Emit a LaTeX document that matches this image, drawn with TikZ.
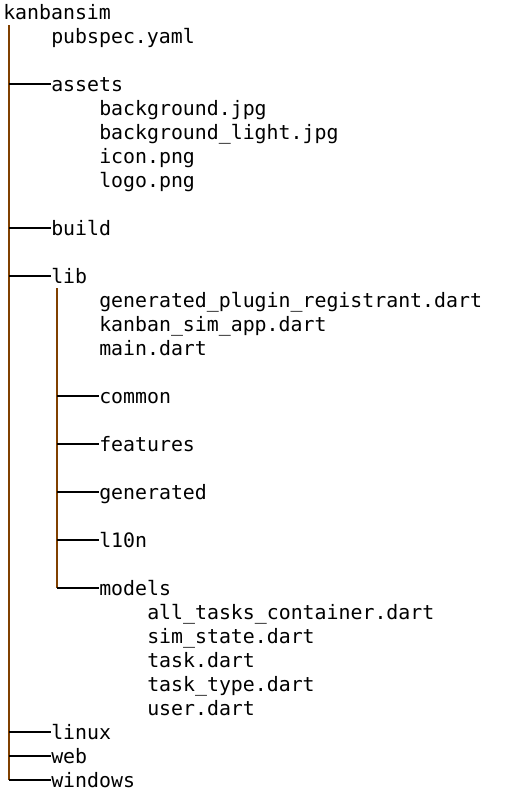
\documentclass[tikz,border=0pt]{standalone}
\usepackage{fontspec}
\setmonofont{DejaVu Sans Mono}
\definecolor{trunkbrown}{RGB}{128,64,0}
\tikzset{
  entry/.style={anchor=base west, inner sep=0pt, text height=10.5pt, text depth=0pt,
    font=\ttfamily\fontsize{14.9}{18}\selectfont},
  trunk/.style={draw=trunkbrown, line width=1.5pt},
  branch/.style={draw=black, line width=1.5pt},
}
\begin{document}
\begin{tikzpicture}[x=0.75pt,y=-0.75pt]
			%%%%% START %%%%%
			\useasboundingbox (0,0) rectangle (523,811);
			
			\node[entry] (kanbansim) at (3,19) {kanbansim};
			\node[entry] (pubspec) at (51,43) {pubspec.yaml};
			
			\node[entry] (assets) at (51,91) {assets};
			\node[entry] (background) at (99,115) {background.jpg};
			\node[entry] (backgroundlight) at (99,139) {background\_light.jpg};
			\node[entry] (icon) at (99,163) {icon.png};
			\node[entry] (logo) at (99,187) {logo.png};
			
			\node[entry] (build) at (51,235) {build};
			
			\node[entry] (lib) at (51,283) {lib};
			\node[entry] (registrant) at (99,307) {generated\_plugin\_registrant.dart};
			\node[entry] (app) at (99,331) {kanban\_sim\_app.dart};
			\node[entry] (main) at (99,355) {main.dart};
			\node[entry] (common) at (99,403) {common};
			\node[entry] (features) at (99,451) {features};
			\node[entry] (generated) at (99,499) {generated};
			\node[entry] (l10n) at (99,547) {l10n};
			\node[entry] (models) at (99,595) {models};
			\node[entry] (container) at (147,619) {all\_tasks\_container.dart};
			\node[entry] (simstate) at (147,643) {sim\_state.dart};
			\node[entry] (task) at (147,667) {task.dart};
			\node[entry] (tasktype) at (147,691) {task\_type.dart};
			\node[entry] (user) at (147,715) {user.dart};
			
			\node[entry] (linux) at (51,739) {linux};
			\node[entry] (web) at (51,763) {web};
			\node[entry] (windows) at (51,787) {windows};
			
			% tree lines
			\coordinate (roottrunk) at (9,25);
			\coordinate (libtrunk) at (57,288);
			
			\draw[trunk] (roottrunk) -- (roottrunk |- windows.west);
			\foreach \n in {assets,build,lib,linux,web,windows}
				\draw[branch] (roottrunk |- \n.west) -- (\n.west);
			
			\draw[trunk] (libtrunk) -- (libtrunk |- models.west);
			\foreach \n in {common,features,generated,l10n,models}
				\draw[branch] (libtrunk |- \n.west) -- (\n.west);
			
			%%%%% END %%%%%
\end{tikzpicture}
\end{document}
